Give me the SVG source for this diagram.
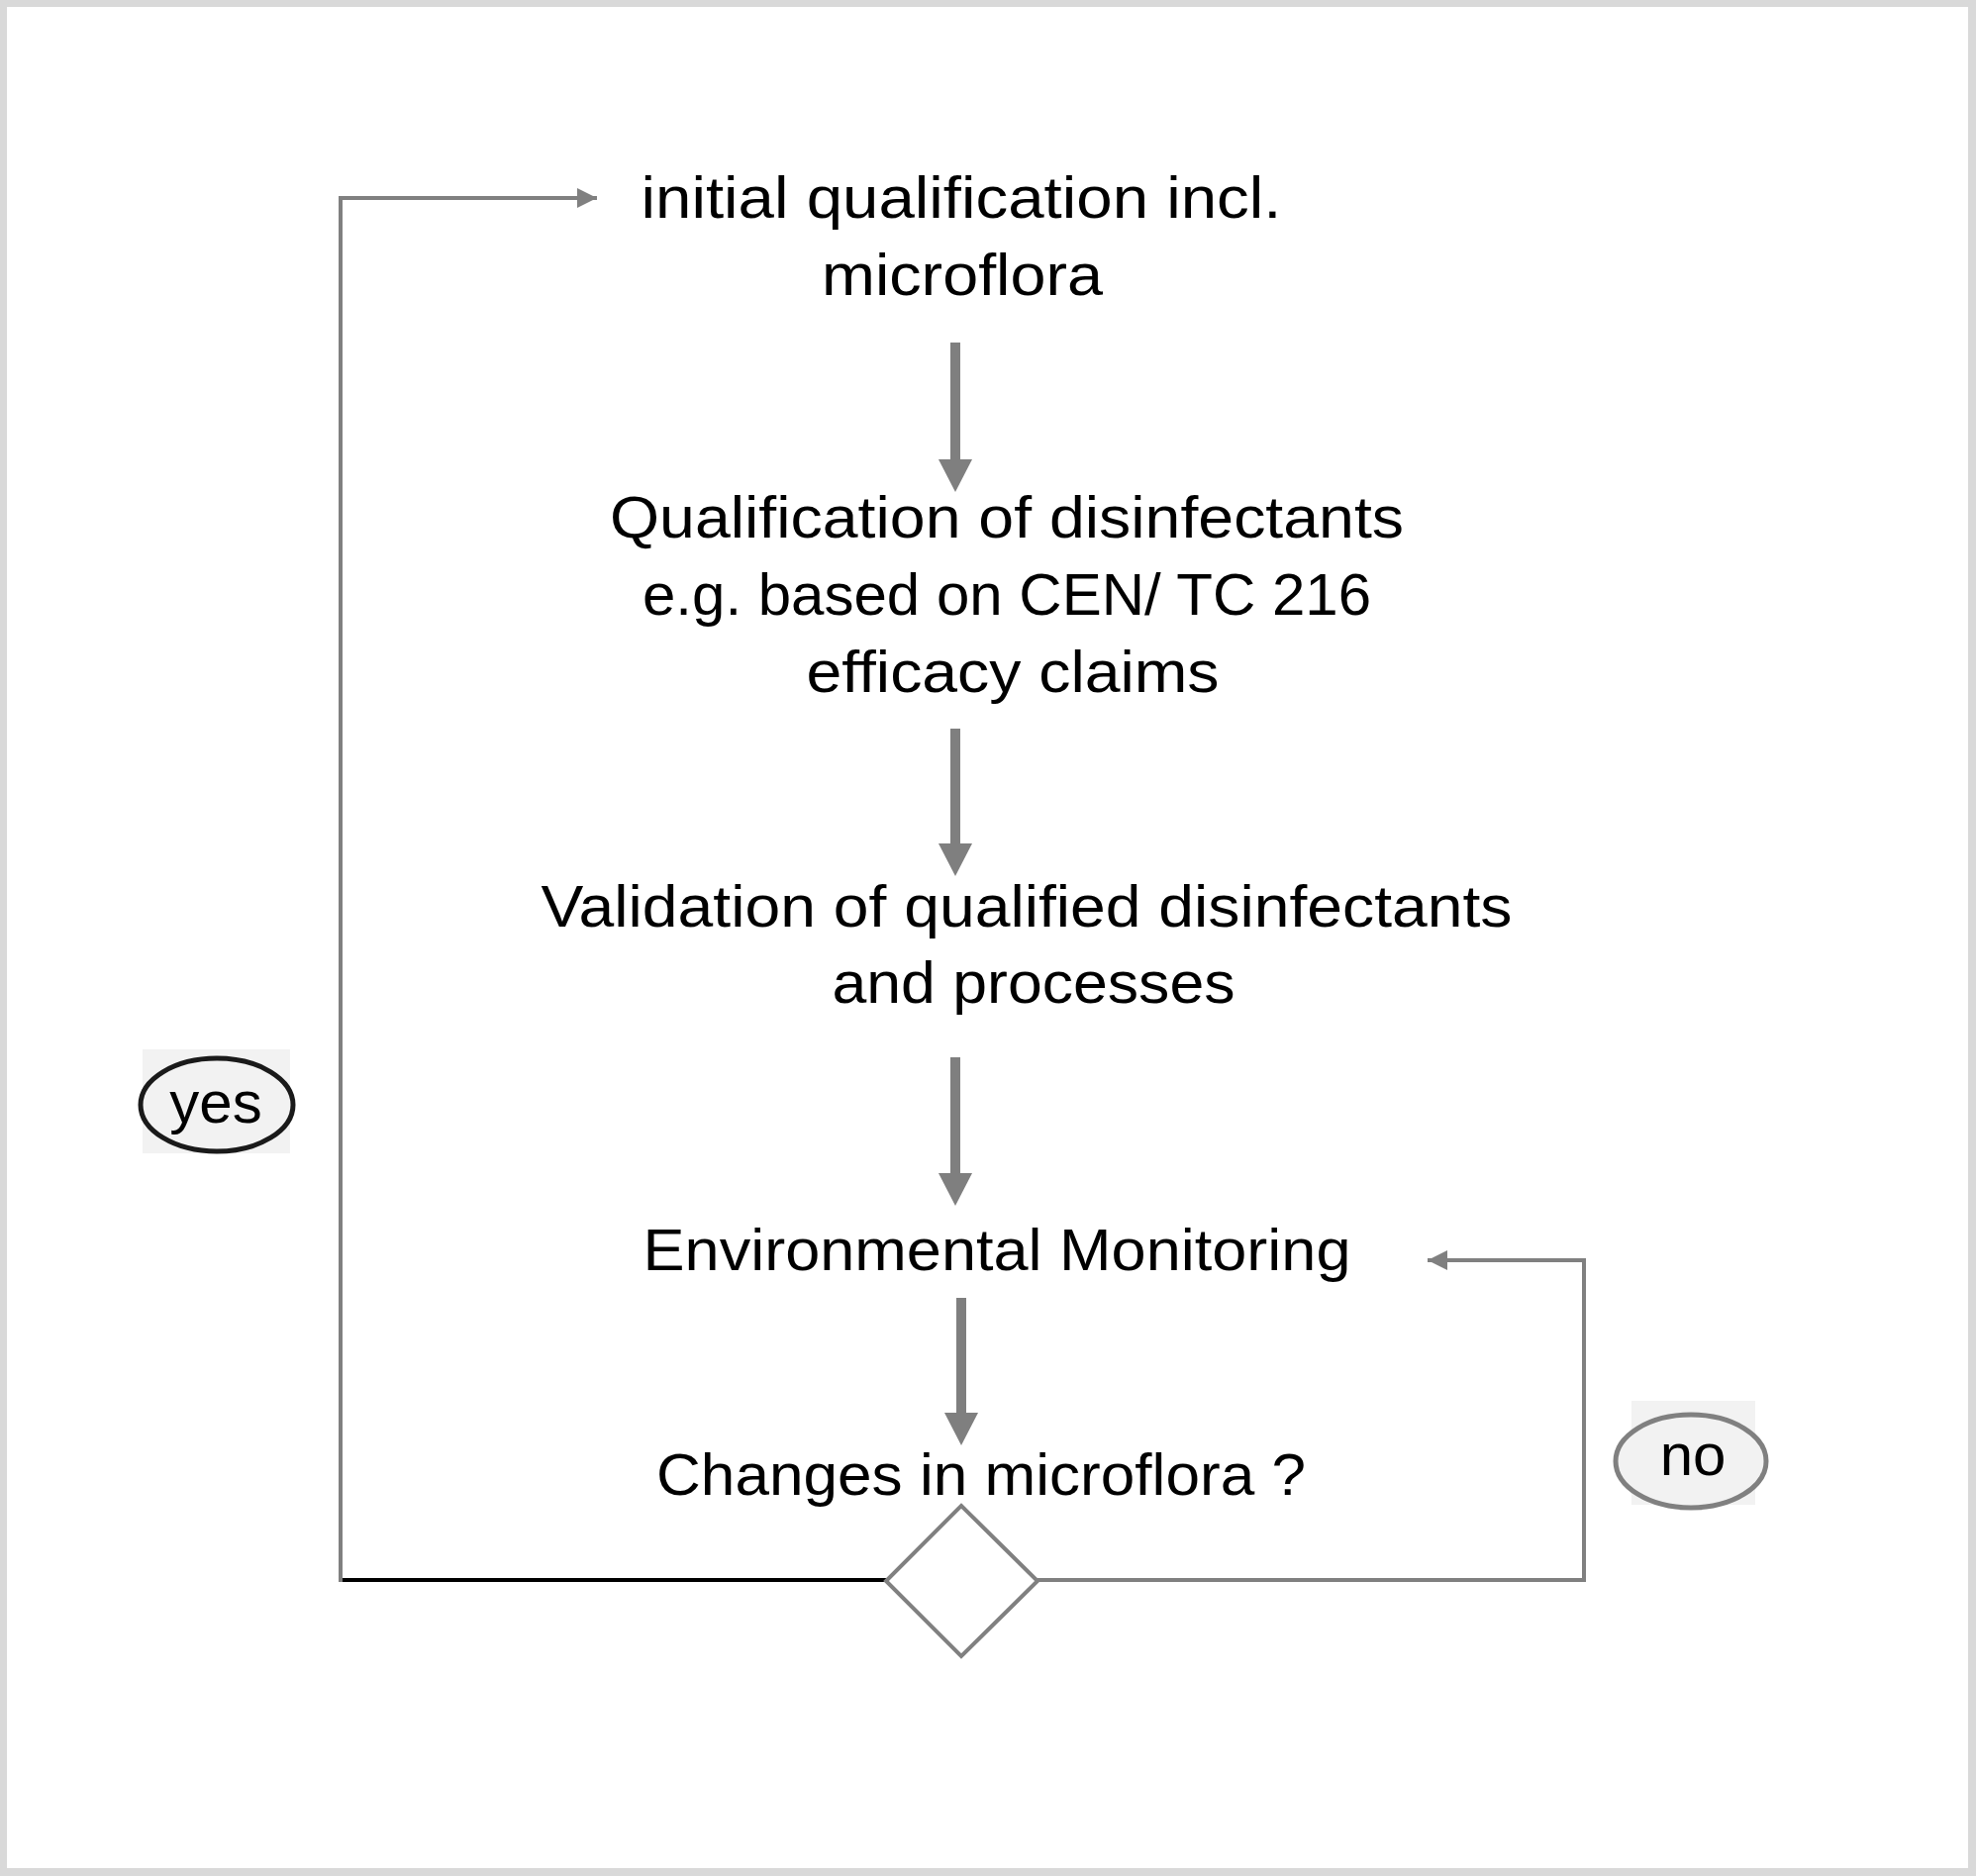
<svg xmlns="http://www.w3.org/2000/svg" width="1996" height="1895" viewBox="0 0 1996 1895">
  <style>
    .t { font-family: "Liberation Sans", Arial, sans-serif; font-size: 60px; fill: #000; text-anchor: middle; }
    .lbl { font-family: "Liberation Sans", Arial, sans-serif; font-size: 60px; fill: #000; text-anchor: middle; }
    .thin { fill: none; stroke: #808080; stroke-width: 4; }
    .shaft { fill: none; stroke: #7f7f7f; stroke-width: 10; }
    .head { fill: #7f7f7f; }
  </style>
  <defs>
    <marker id="thinHead" viewBox="0 0 20 20" refX="20" refY="10" markerWidth="20" markerHeight="20" markerUnits="userSpaceOnUse" orient="auto">
      <path d="M0,0 L20,10 L0,20 Z" fill="#808080"/>
    </marker>
    <path id="bigHead" d="M-17,0 L17,0 L0,33 Z"/>
  </defs>
  <rect x="0" y="0" width="1996" height="1895" fill="#d9d9d9"/>
  <rect x="7" y="7" width="1981" height="1880" fill="#ffffff"/>

  <g id="connectors">
    <line class="shaft" x1="965" y1="346" x2="965" y2="466"/>
    <use href="#bigHead" class="head" x="965" y="464"/>
    <line class="shaft" x1="965" y1="736" x2="965" y2="854"/>
    <use href="#bigHead" class="head" x="965" y="852"/>
    <line class="shaft" x1="965" y1="1068" x2="965" y2="1187"/>
    <use href="#bigHead" class="head" x="965" y="1185"/>
    <line class="shaft" x1="971" y1="1311" x2="971" y2="1429"/>
    <use href="#bigHead" class="head" x="971" y="1427"/>
    <path d="M895,1596 L344,1596" fill="none" stroke="#000" stroke-width="4"/>
    <path class="thin" d="M344,1598 L344,200 L603,200" marker-end="url(#thinHead)"/>
    <path class="thin" d="M1048,1596 L1600,1596 L1600,1273 L1442,1273" marker-end="url(#thinHead)"/>
  </g>

  <g id="node-initial">
    <text class="t" x="971" y="220" textLength="647" lengthAdjust="spacingAndGlyphs">initial qualification incl.</text>
    <text class="t" x="972" y="298" textLength="284" lengthAdjust="spacingAndGlyphs">microflora</text>
  </g>
  <g id="node-qualification">
    <text class="t" x="1017" y="543" textLength="802" lengthAdjust="spacingAndGlyphs">Qualification of disinfectants</text>
    <text class="t" x="1017" y="621" textLength="736" lengthAdjust="spacingAndGlyphs">e.g. based on CEN/ TC 216</text>
    <text class="t" x="1023" y="699" textLength="417" lengthAdjust="spacingAndGlyphs">efficacy claims</text>
  </g>
  <g id="node-validation">
    <text class="t" x="1037" y="936" textLength="981" lengthAdjust="spacingAndGlyphs">Validation of qualified disinfectants</text>
    <text class="t" x="1044" y="1013" textLength="407" lengthAdjust="spacingAndGlyphs">and processes</text>
  </g>
  <g id="node-monitoring">
    <text class="t" x="1007" y="1283" textLength="715" lengthAdjust="spacingAndGlyphs">Environmental Monitoring</text>
  </g>
  <g id="node-changes">
    <text class="t" x="991" y="1510" textLength="656" lengthAdjust="spacingAndGlyphs">Changes in microflora ?</text>
  </g>
  <g id="node-decision">
    <path d="M971,1521 L1048,1597 L971,1673 L895,1597 Z" fill="#ffffff" stroke="#808080" stroke-width="4"/>
  </g>
  <g id="label-yes">
    <rect x="144" y="1060" width="149" height="105" fill="#f2f2f2"/>
    <ellipse cx="219" cy="1116" rx="77" ry="47" fill="#f2f2f2" stroke="#1a1a1a" stroke-width="5"/>
    <text class="lbl" x="218" y="1134">yes</text>
  </g>
  <g id="label-no">
    <rect x="1648" y="1415" width="125" height="105" fill="#f2f2f2"/>
    <ellipse cx="1708" cy="1476" rx="76" ry="47" fill="#f2f2f2" stroke="#808080" stroke-width="5"/>
    <text class="lbl" x="1710" y="1490">no</text>
  </g>
</svg>
